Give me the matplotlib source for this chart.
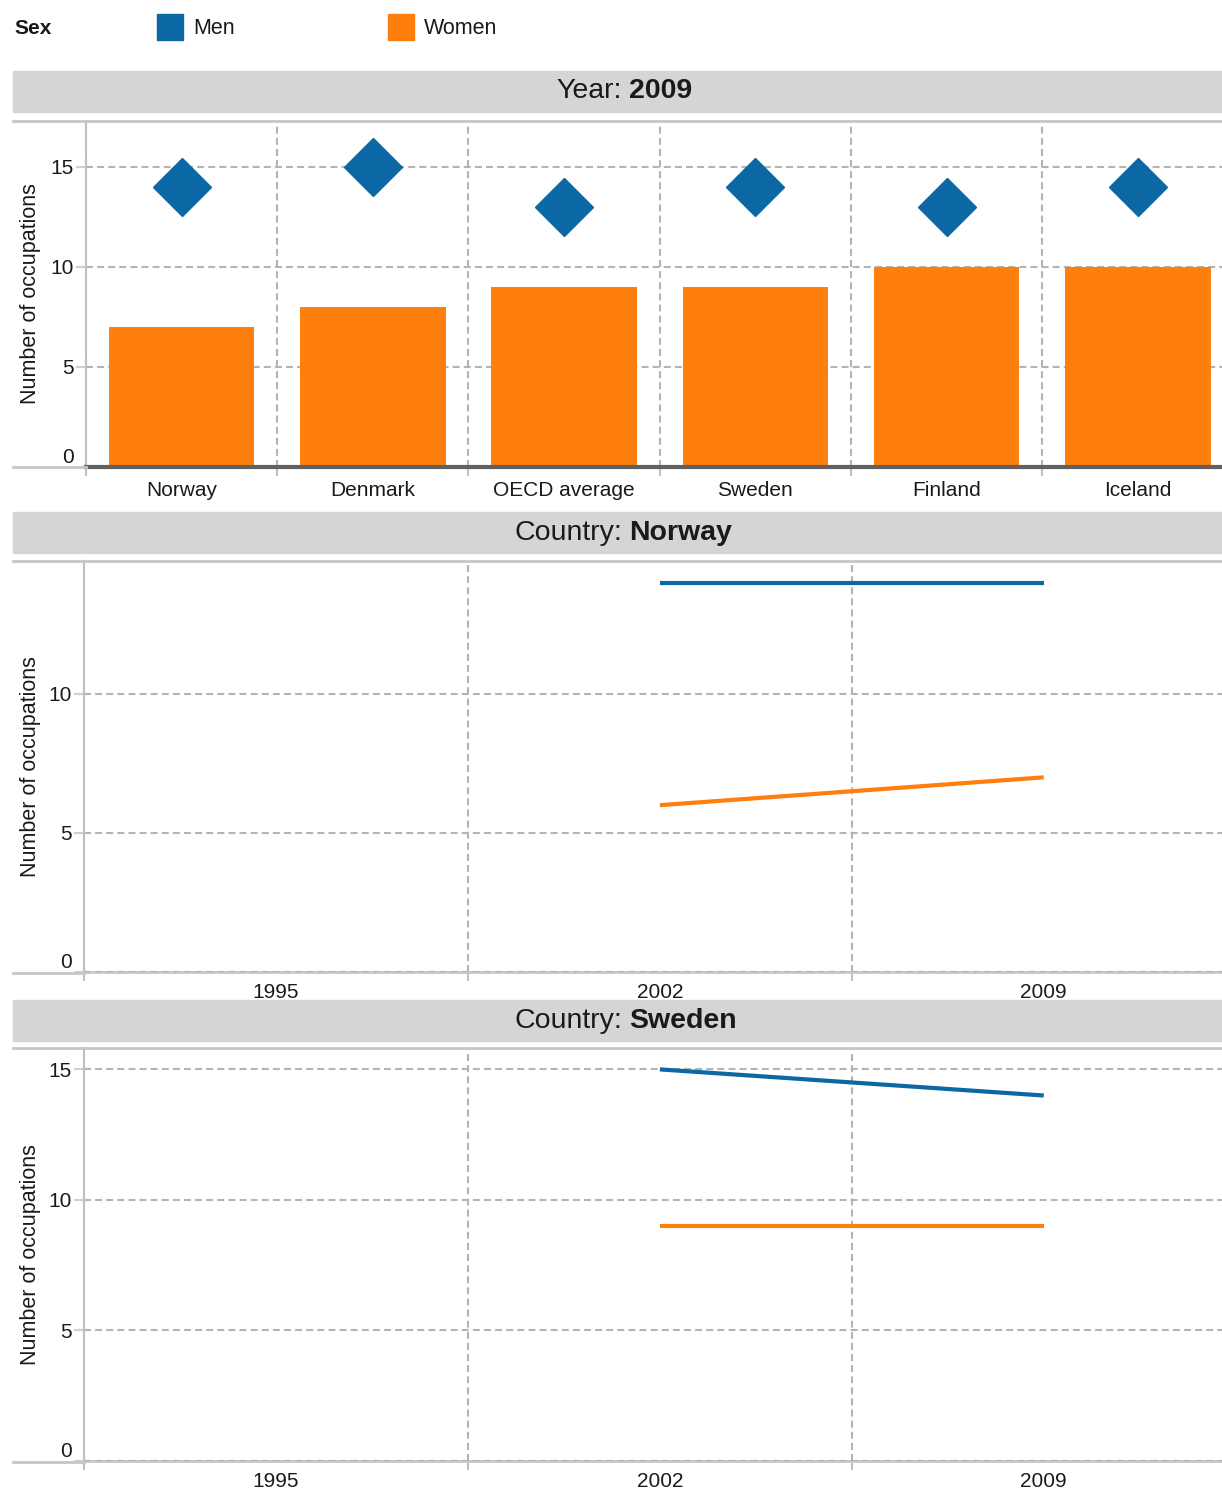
import matplotlib
matplotlib.use('Agg')
import matplotlib.pyplot as plt
from matplotlib.patches import Rectangle
from matplotlib.lines import Line2D

plt.rcParams['font.family'] = ['Liberation Sans', 'DejaVu Sans']
plt.rcParams['lines.scale_dashes'] = False

W, H = 1222, 1490

# data
countries = ['Norway', 'Denmark', 'OECD average', 'Sweden', 'Finland', 'Iceland']
men_2009 = [14, 15, 13, 14, 13, 14]
women_2009 = [7, 8, 9, 9, 10, 10]
years = [1995, 2002, 2009]
norway_years = [2002, 2009]
norway_men = [14, 14]
norway_women = [6, 7]
sweden_years = [2002, 2009]
sweden_men = [15, 14]
sweden_women = [9, 9]

MEN = '#0b68a5'
WOMEN = '#ff7f0e'
TXT = '#1a1a1a'
GRID = '#b4b4b4'
LIGHT = '#c6c6c6'
DASH = (0, (5, 3))


def fx(px):
    return px / W


def fy(py):
    return 1 - py / H


def add_axes(left, top, bottom):
    return fig.add_axes([fx(left), fy(bottom), fx(W) - fx(left), fy(top) - fy(bottom)])


def style_axes(ax, yticks, bottom_color, bottom_lw, left, xpad):
    for s in ['top', 'right']:
        ax.spines[s].set_visible(False)
    ax.spines['left'].set_color('#c0c0c0')
    ax.spines['left'].set_linewidth(1.5)
    ax.spines['bottom'].set_color(bottom_color)
    ax.spines['bottom'].set_linewidth(bottom_lw)
    ax.spines['bottom'].set_zorder(3)
    ax.set_yticks(yticks)
    ax.tick_params(axis='y', length=7, width=1.5, color='#d0d0d0', pad=2,
                   labelsize=15, labelcolor=TXT)
    ax.tick_params(axis='x', which='major', length=0, pad=xpad, labelsize=15, labelcolor=TXT)
    ax.tick_params(axis='x', which='minor', length=6.5, width=1.5, color='#c0c0c0')
    ax.grid(axis='y', which='major', color=GRID, lw=1.5, ls=DASH)
    ax.grid(axis='x', which='minor', color=GRID, lw=1.5, ls=DASH)
    ax.grid(axis='x', which='major', visible=False)
    ax.set_axisbelow(True)
    ax.set_ylabel('Number of occupations', fontsize=15.5, color=TXT)
    ax.yaxis.set_label_coords((41 - left) / (W - left), 0.5)
    ax.get_yticklabels()[0].set_verticalalignment('bottom')


fig = plt.figure(figsize=(W / 100, H / 100), dpi=100)

# top panel: 2009 by country
ax1 = add_axes(86, 121, 467)
x = list(range(len(countries)))
ax1.bar(x, women_2009, width=0.76, color=WOMEN, zorder=2)
ax1.plot(x, men_2009, ls='none', marker='D', ms=30, color=MEN, zorder=3)
ax1.set_xlim(-0.5, 5.44)
ax1.set_ylim(0, 17.3)
ax1.set_xticks(x)
ax1.set_xticklabels(countries)
ax1.set_xticks([i - 0.5 for i in range(len(countries))], minor=True)
style_axes(ax1, [0, 5, 10, 15], '#606060', 3, 86, 10)

# Norway over time
ax2 = add_axes(84, 561, 972)
ax2.plot(norway_years, norway_men, color=MEN, lw=3, solid_capstyle='butt')
ax2.plot(norway_years, norway_women, color=WOMEN, lw=3, solid_capstyle='butt')
ax2.set_ylim(0, 14.78)

# Sweden over time
ax3 = add_axes(84, 1048, 1461)
ax3.plot(sweden_years, sweden_men, color=MEN, lw=3, solid_capstyle='butt')
ax3.plot(sweden_years, sweden_women, color=WOMEN, lw=3, solid_capstyle='butt')
ax3.set_ylim(0, 15.82)

for ax, yt in [(ax2, [0, 5, 10]), (ax3, [0, 5, 10, 15])]:
    ax.set_xlim(1991.5, 2012.25)
    ax.set_xticks(years)
    ax.set_xticklabels([str(y) for y in years])
    ax.set_xticks([1991.5, 1998.5, 2005.5], minor=True)
    style_axes(ax, yt, LIGHT, 2, 84, 8)
    ax.axhline(0, color=GRID, lw=1.5, ls=DASH, zorder=4)

# frame lines running out to the left edge
for py in [121, 561, 1048]:
    fig.add_artist(Line2D([fx(13), fx(W)], [fy(py), fy(py)], color=LIGHT, lw=2, zorder=4))
for py, left in [(467, 86), (973, 84), (1462, 84)]:
    fig.add_artist(Line2D([fx(13), fx(left)], [fy(py), fy(py)], color=LIGHT, lw=2, zorder=4))

# header bands
headers = [(71, 112, 'Year:', '2009'),
           (512, 553, 'Country:', 'Norway'),
           (1000, 1041, 'Country:', 'Sweden')]
for top, bot, label, value in headers:
    fig.add_artist(Rectangle((fx(13), fy(bot)), fx(W) - fx(13), fy(top) - fy(bot),
                             transform=fig.transFigure, color='#d5d5d5', zorder=5))
    yc = fy((top + bot) / 2)
    fig.text(fx(622), yc, label, ha='right', va='center', fontsize=20.5, color=TXT, zorder=6)
    fig.text(fx(629), yc, value, ha='left', va='center', fontsize=20.5, color=TXT,
             fontweight='bold', zorder=6)

# legend
fig.text(fx(14), fy(28), 'Sex', ha='left', va='center', fontsize=15, fontweight='bold', color=TXT)
for x0, label, col in [(157, 'Men', MEN), (388, 'Women', WOMEN)]:
    fig.add_artist(Rectangle((fx(x0), fy(40)), fx(26), fy(14) - fy(40),
                             transform=fig.transFigure, color=col))
    fig.text(fx(x0 + 36), fy(28), label, ha='left', va='center', fontsize=15.5, color=TXT)

fig.savefig('out.png', dpi=100)
